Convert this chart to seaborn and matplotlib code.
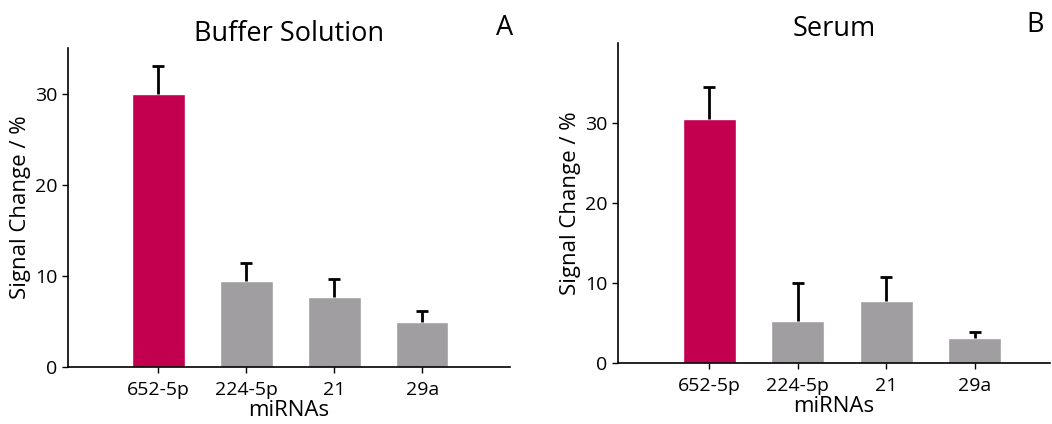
import numpy as np
import pandas as pd
import matplotlib
matplotlib.use('Agg')
import matplotlib.pyplot as plt
import seaborn as sns

# Data
mirnas = ['652-5p', '224-5p', '21', '29a']
buffer_vals = [29.9, 9.4, 7.7, 4.9]
buffer_err = [3.1, 2.0, 2.0, 1.3]
serum_vals = [30.5, 5.3, 7.8, 3.1]
serum_err = [4.0, 4.7, 2.9, 0.8]
bar_colors = ['#C2004F', '#A09EA0', '#A09EA0', '#A09EA0']

sns.set_style('ticks')
plt.rcParams['font.family'] = ['Open Sans', 'DejaVu Sans']
for key in ['text.color', 'axes.labelcolor', 'xtick.color', 'ytick.color', 'axes.edgecolor']:
    plt.rcParams[key] = 'black'

fig = plt.figure(figsize=(10.52, 4.24), dpi=100)
ax_a = fig.add_axes([0.0646, 0.1344, 0.4202, 0.7524])
ax_b = fig.add_axes([0.5875, 0.1439, 0.4105, 0.7547])


def draw_panel(ax, vals, errs, title, ymax, xmax):
    df = pd.DataFrame({'miRNA': mirnas, 'value': vals})
    sns.barplot(data=df, x='miRNA', y='value', hue='miRNA', palette=bar_colors,
                legend=False, width=0.6, saturation=1, ax=ax)
    eb = ax.errorbar(np.arange(len(mirnas)), vals, yerr=[np.zeros(len(errs)), errs],
                     fmt='none', ecolor='black', elinewidth=2, capsize=4, capthick=2)
    # only the upper cap is shown in the original
    eb[1][0].set_visible(False)
    ax.set_xlim(-1.03, xmax)
    ax.set_ylim(0, ymax)
    ax.set_yticks([0, 10, 20, 30])
    ax.set_xlabel('miRNAs', fontsize=16, labelpad=1)
    ax.set_ylabel('Signal Change / %', fontsize=16, labelpad=3)
    ax.tick_params(labelsize=14, length=4, width=1)
    ax.tick_params(axis='x', pad=6)
    ax.set_title(title, fontsize=19.5, pad=5)
    sns.despine(ax=ax)
    for sp in ['left', 'bottom']:
        ax.spines[sp].set_linewidth(1.2)


draw_panel(ax_a, buffer_vals, buffer_err, 'Buffer Solution', 35, 4.0)
draw_panel(ax_b, serum_vals, serum_err, 'Serum', 40, 3.85)
fig.text(0.480, 0.935, 'A', fontsize=19.5, ha='center', va='center')
fig.text(0.984, 0.940, 'B', fontsize=19.5, ha='center', va='center')

fig.savefig('out.png', dpi=100)
